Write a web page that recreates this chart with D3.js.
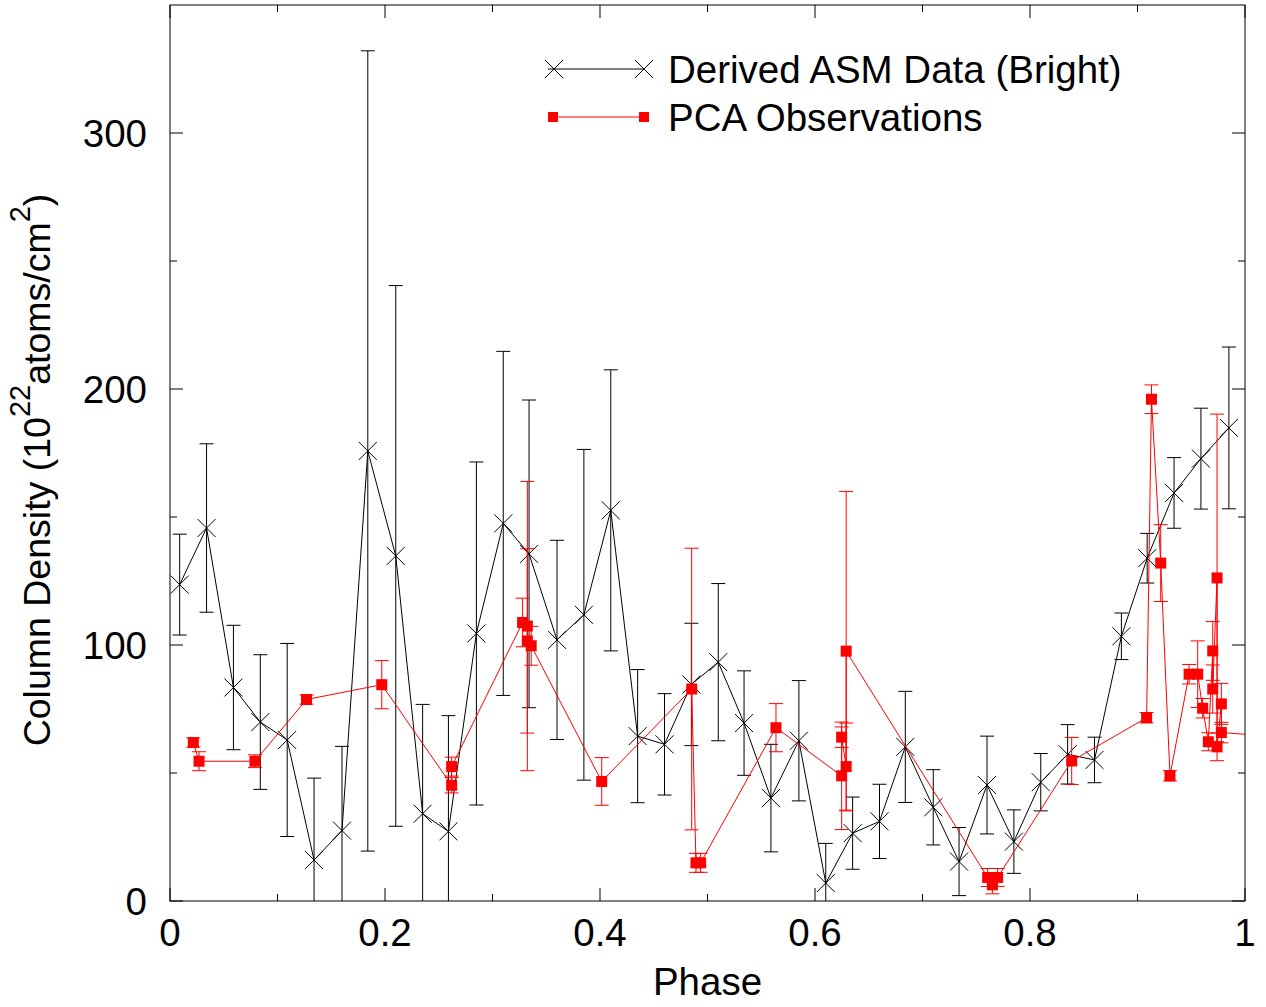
<!DOCTYPE html>
<html>
<head>
<meta charset="utf-8">
<script src="https://cdn.jsdelivr.net/npm/d3@7"></script>
<style>
  body { margin: 0; background: #fff; }
  svg text { font-family: "Liberation Sans", Arial, sans-serif; fill: #000; }
</style>
</head>
<body>
<div id="chart"></div>
<script>
// Derived ASM data (black crosses)
const asmPhase = [0.009, 0.034, 0.059, 0.084, 0.109, 0.134, 0.160, 0.184, 0.210, 0.235,
    0.259, 0.285, 0.310, 0.334, 0.360, 0.385, 0.410, 0.435, 0.460, 0.485,
    0.510, 0.534, 0.559, 0.585, 0.610, 0.635, 0.660, 0.684, 0.710, 0.734,
    0.760, 0.785, 0.810, 0.835, 0.860, 0.885, 0.909, 0.934, 0.959, 0.985];
const asmDensity = [123.6, 145.7, 83.4, 69.9, 62.9, 16, 27.5, 175.8, 134.8, 34.1,
    27.2, 104.5, 147.5, 135.6, 102, 111.8, 152.6, 64.4, 61.2, 84.6,
    93.3, 69.5, 40.2, 62.6, 7, 26.5, 31.1, 60.2, 36.6, 15.4,
    45.3, 23.2, 46.4, 57.3, 55.1, 103.4, 133.9, 159.4, 172.8, 184.8];
const asmError = [19.7, 32.9, 24.3, 26.3, 37.7, 32, 32.9, 156.3, 105.6, 42.7,
    45.2, 67, 67.2, 60.1, 38.9, 64.6, 54.9, 26, 19.8, 23.9,
    30.7, 20.4, 21, 23.5, 15.5, 14.1, 14.5, 21.7, 14.7, 13.3,
    19.1, 12.4, 11.2, 11.6, 8.9, 9.1, 9.7, 13.8, 19.7, 31.6];

// PCA observations (red squares)
const pcaPhase = [0.0217, 0.027, 0.079, 0.127, 0.197, 0.262, 0.262, 0.328, 0.3324, 0.3324,
    0.336, 0.4016, 0.4853, 0.4893, 0.4936, 0.5637, 0.6248, 0.6248, 0.629, 0.629,
    0.7606, 0.765, 0.7699, 0.8388, 0.9085, 0.913, 0.9216, 0.9302, 0.948, 0.956,
    0.9606, 0.9659, 0.970, 0.970, 0.974, 0.974, 0.978, 0.978, 1.02];
const pcaDensity = [61.9, 54.6, 54.6, 78.7, 84.5, 45.2, 52.5, 108.8, 107.4, 101.6,
    99.7, 46.7, 82.8, 14.9, 14.9, 67.7, 48.9, 64, 52.5, 97.6,
    9.2, 6.3, 9.2, 54.7, 71.6, 196, 132, 48.9, 88.6, 88.6,
    75.3, 62.2, 97.7, 82.8, 126.2, 60.2, 77, 65.8, 64.5];
const pcaError = [1.8, 3.7, 2.5, 1.8, 9.4, 3, 3.7, 9.5, 56.5, 36,
    7.6, 9.3, 55, 3.7, 3.7, 9.4, 21, 4, 17, 62.4,
    3.5, 3.5, 3.5, 9.2, 2, 5.6, 15, 2, 3.8, 13,
    3.8, 3.5, 11.5, 9.4, 64, 5.4, 8, 4, 3];

const xTicks = [0, 0.2, 0.4, 0.6, 0.8, 1];
const xMinorTicks = [0.1, 0.3, 0.5, 0.7, 0.9];
const yTicks = [0, 100, 200, 300];
const yMinorTicks = [50, 150, 250];

const legendLabels = ["Derived ASM Data (Bright)", "PCA Observations"];

const W = 1266, H = 1007;
const margin = { top: 5, right: 21, bottom: 106, left: 170 };
const width = W - margin.left - margin.right;
const height = H - margin.top - margin.bottom;
const fontSize = 38.5;

const svg = d3.select("#chart").append("svg")
    .attr("width", W).attr("height", H);

const g = svg.append("g")
    .attr("transform", `translate(${margin.left},${margin.top})`);

const x = d3.scaleLinear().domain([0, 1]).range([0, width]);
const y = d3.scaleLinear().domain([0, 350]).range([height, 0]);

g.append("clipPath").attr("id", "plotClip")
    .append("rect").attr("width", width).attr("height", height);

// ticks on all four sides (major and minor)
const majorLen = 13, minorLen = 7;
const ticks = g.append("g").attr("stroke", "#000").attr("stroke-width", 1);
xTicks.concat(xMinorTicks).forEach(t => {
    const len = xTicks.includes(t) ? majorLen : minorLen;
    ticks.append("line").attr("x1", x(t)).attr("x2", x(t)).attr("y1", height).attr("y2", height - len);
    ticks.append("line").attr("x1", x(t)).attr("x2", x(t)).attr("y1", 0).attr("y2", len);
});
yTicks.concat(yMinorTicks).forEach(t => {
    const len = yTicks.includes(t) ? majorLen : minorLen;
    ticks.append("line").attr("y1", y(t)).attr("y2", y(t)).attr("x1", 0).attr("x2", len);
    ticks.append("line").attr("y1", y(t)).attr("y2", y(t)).attr("x1", width).attr("x2", width - len);
});

// tick labels
g.selectAll(".xlab").data(xTicks).enter().append("text")
    .attr("class", "xlab")
    .attr("x", d => x(d)).attr("y", height + 45)
    .attr("text-anchor", "middle")
    .style("font-size", fontSize + "px")
    .text(d => d3.format("")(d));

g.selectAll(".ylab").data(yTicks).enter().append("text")
    .attr("class", "ylab")
    .attr("x", -23).attr("y", d => y(d))
    .attr("dy", "0.36em")
    .attr("text-anchor", "end")
    .style("font-size", fontSize + "px")
    .text(d => d);

// axis titles
g.append("text")
    .attr("x", width / 2).attr("y", height + 94)
    .attr("text-anchor", "middle")
    .style("font-size", fontSize + "px")
    .text("Phase");

const yTitle = svg.append("text")
    .attr("transform", "translate(50,470) rotate(-90)")
    .attr("text-anchor", "middle")
    .style("font-size", "37.5px");
yTitle.append("tspan").text("Column Density (10");
yTitle.append("tspan").attr("dy", -20).style("font-size", "29px").text("22");
yTitle.append("tspan").attr("dy", 20).text("atoms/cm");
yTitle.append("tspan").attr("dy", -20).style("font-size", "29px").text("2");
yTitle.append("tspan").attr("dy", 20).text(")");

const plot = g.append("g").attr("clip-path", "url(#plotClip)");

const capW = 7;
function drawErrorBars(phase, dens, err, color) {
    const eb = plot.append("g").attr("stroke", color).attr("stroke-width", 1).attr("fill", "none");
    phase.forEach((p, i) => {
        const cx = x(p), lo = y(dens[i] - err[i]), hi = y(dens[i] + err[i]);
        eb.append("line").attr("x1", cx).attr("x2", cx).attr("y1", lo).attr("y2", hi);
        eb.append("line").attr("x1", cx - capW).attr("x2", cx + capW).attr("y1", lo).attr("y2", lo);
        eb.append("line").attr("x1", cx - capW).attr("x2", cx + capW).attr("y1", hi).attr("y2", hi);
    });
}

const line = d3.line().x(d => x(d[0])).y(d => y(d[1]));

// ASM series
const asmPts = asmPhase.map((p, i) => [p, asmDensity[i]]);
drawErrorBars(asmPhase, asmDensity, asmError, "#000");
plot.append("path").datum(asmPts)
    .attr("d", line).attr("fill", "none").attr("stroke", "#000").attr("stroke-width", 1);

const crossSize = 9;
function cross(sel, cx, cy) {
    sel.append("path")
        .attr("d", `M${cx - crossSize},${cy - crossSize}L${cx + crossSize},${cy + crossSize}M${cx - crossSize},${cy + crossSize}L${cx + crossSize},${cy - crossSize}`)
        .attr("stroke", "#000").attr("stroke-width", 1).attr("fill", "none");
}
asmPts.forEach(d => cross(plot, x(d[0]), y(d[1])));

// PCA series
const pcaPts = pcaPhase.map((p, i) => [p, pcaDensity[i]]);
drawErrorBars(pcaPhase, pcaDensity, pcaError, "#ff0000");
plot.append("path").datum(pcaPts)
    .attr("d", line).attr("fill", "none").attr("stroke", "#ff0000").attr("stroke-width", 1);

const sq = 11;
plot.selectAll(".sq").data(pcaPts).enter().append("rect")
    .attr("class", "sq")
    .attr("x", d => x(d[0]) - sq / 2).attr("y", d => y(d[1]) - sq / 2)
    .attr("width", sq).attr("height", sq)
    .attr("fill", "#ff0000");

// frame
g.append("rect").attr("width", width).attr("height", height)
    .attr("fill", "none").attr("stroke", "#000").attr("stroke-width", 1);

// legend
const leg = svg.append("g");
leg.append("line").attr("x1", 548).attr("x2", 645).attr("y1", 69).attr("y2", 69)
    .attr("stroke", "#000").attr("stroke-width", 1);
cross(leg, 554, 69);
cross(leg, 644, 69);
leg.append("text").attr("x", 668).attr("y", 69).attr("dy", "0.36em")
    .style("font-size", fontSize + "px").text(legendLabels[0]);

leg.append("line").attr("x1", 553).attr("x2", 644).attr("y1", 117).attr("y2", 117)
    .attr("stroke", "#ff0000").attr("stroke-width", 1);
[553, 644].forEach(cx => leg.append("rect")
    .attr("x", cx - 5).attr("y", 112).attr("width", 10).attr("height", 10).attr("fill", "#ff0000"));
leg.append("text").attr("x", 668).attr("y", 117).attr("dy", "0.36em")
    .style("font-size", fontSize + "px").text(legendLabels[1]);
</script>
</body>
</html>
